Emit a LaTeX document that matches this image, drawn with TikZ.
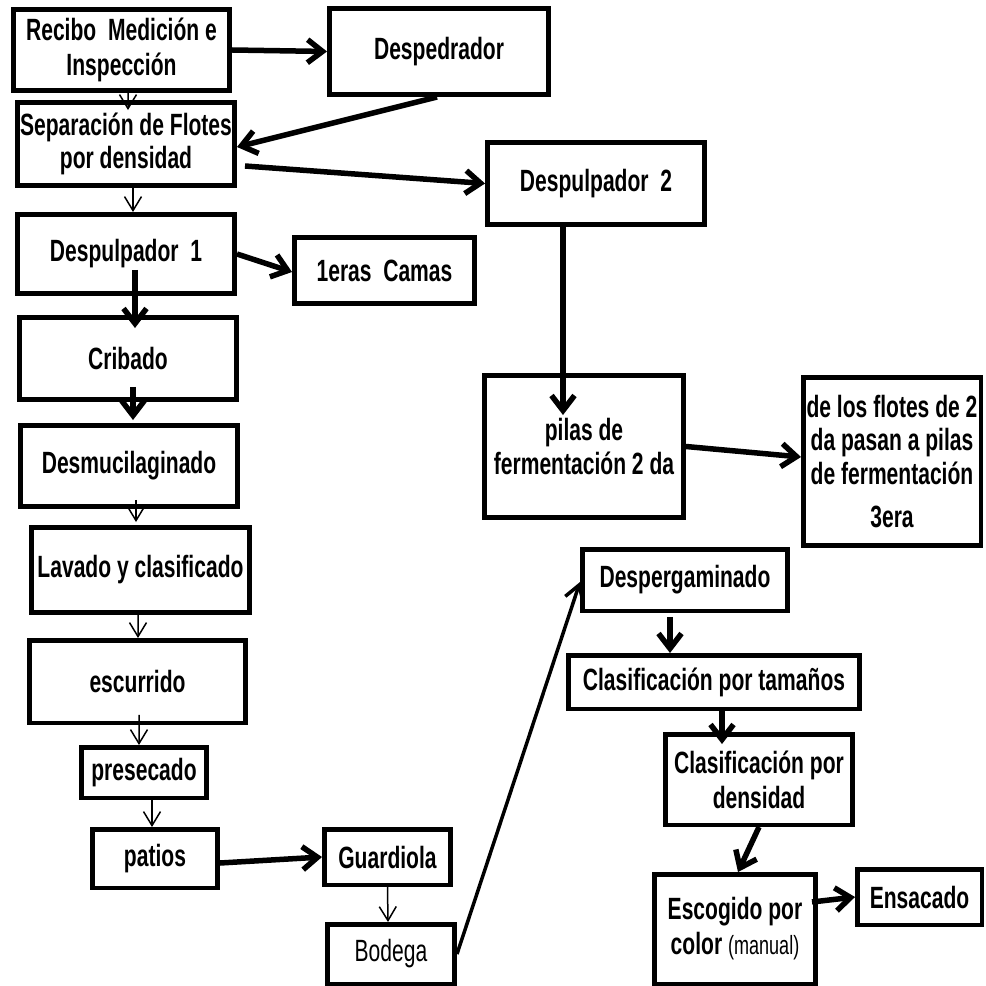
\documentclass[tikz,border=0pt]{standalone}
\usepackage{fontspec}
\setmainfont{Liberation Sans}[FakeStretch=0.685]
\usetikzlibrary{arrows.meta,calc}
\definecolor{textdark}{HTML}{000000}
\definecolor{linedark}{HTML}{000000}
\tikzset{
  stepbox/.style={
    rectangle, draw=linedark, line width=0.09cm, fill=white,
    align=center, inner xsep=1pt, inner ysep=1pt, text=textdark,
    font=\bfseries\fontsize{17.5}{18.9}\selectfont
  },
  plainbox/.style={stepbox, font=\mdseries\fontsize{17.5}{18.9}\selectfont},
  thickarrow/.style={-{Straight Barb[length=0.3cm,width=0.46cm]}, line width=0.11cm, draw=linedark},
  midarrow/.style={-{Straight Barb[length=0.3cm,width=0.38cm]}, line width=0.07cm, draw=linedark},
  thinarrow/.style={-{Straight Barb[length=0.28cm,width=0.34cm]}, line width=0.03cm, draw=linedark}
}

\begin{document}
\begin{tikzpicture}[x=0.02cm,y=-0.02cm]
\useasboundingbox[fill=white] (0,0) rectangle (985,986);
% left column
\node[stepbox, minimum width=4.33cm, minimum height=1.63cm, font=\bfseries\fontsize{17.5}{20}\selectfont] (recibo) at (121.5,50) {Recibo\ \ Medición e\\Inspección};
\node[stepbox, minimum width=4.35cm, minimum height=1.67cm] (separ) at (126,144) {Separación de Flotes\\por densidad};
\node[stepbox, minimum width=4.35cm, minimum height=1.59cm] (desp1) at (126,254) {Despulpador\ \ 1};
\node[stepbox, minimum width=4.35cm, minimum height=1.65cm] (cribado) at (128,358.5) {Cribado};
\node[stepbox, minimum width=4.35cm, minimum height=1.63cm] (desmu) at (129,466) {Desmucilaginado};
\node[stepbox, minimum width=4.37cm, minimum height=1.71cm] (lavado) at (140.5,570) {Lavado y clasificado};
\node[stepbox, minimum width=4.33cm, minimum height=1.65cm] (escurrido) at (137.5,681.5) {escurrido};
\node[stepbox, minimum width=2.51cm, minimum height=1.01cm] (presecado) at (144,772.5) {presecado};
\node[stepbox, minimum width=2.51cm, minimum height=1.17cm] (patios) at (155,858.5) {patios};
% middle
\node[stepbox, minimum width=4.39cm, minimum height=1.73cm] (desped) at (439,51.5) {Despedrador};
\node[stepbox, minimum width=3.61cm, minimum height=1.33cm] (camas) at (384.5,270.5) {1eras\ \ Camas};
\node[stepbox, minimum width=2.53cm, minimum height=1.11cm] (guardiola) at (387.5,857) {Guardiola};
\node[plainbox, minimum width=2.55cm, minimum height=1.19cm] (bodega) at (391,954) {Bodega};
% right
\node[stepbox, minimum width=4.35cm, minimum height=1.65cm] (desp2) at (596,183.5) {Despulpador\ \ 2};
\node[stepbox, minimum width=3.99cm, minimum height=2.85cm] (pilas) at (584,446.5) {pilas de\\fermentación 2 da};
\node[stepbox, minimum width=3.55cm, minimum height=3.37cm, inner xsep=0pt] (flotes) at (892,461.5) {de los flotes de 2\\da pasan a pilas\\de fermentación\\[0.2cm]3era};
\node[stepbox, minimum width=4.11cm, minimum height=1.23cm] (desperg) at (685,580) {Despergaminado};
\node[stepbox, minimum width=5.83cm, minimum height=1.07cm] (tamanos) at (714,682) {Clasificación por tamaños};
\node[stepbox, minimum width=3.75cm, minimum height=1.81cm, font=\bfseries\fontsize{17.5}{20}\selectfont] (densidad) at (759,779.5) {Clasificación por\\densidad};
\node[stepbox, minimum width=3.23cm, minimum height=2.19cm, font=\bfseries\fontsize{17.5}{20}\selectfont] (escogido) at (735,929) {Escogido por\\color {\mdseries\fontsize{15}{20}\selectfont(manual)}};
\node[stepbox, minimum width=2.49cm, minimum height=1.11cm] (ensacado) at (919.5,897) {Ensacado};
% connectors
\draw[thickarrow] (recibo.east) -- (desped.west);
\draw[thinarrow] ($(recibo.south)+(6.5,-2)$) -- ($(separ.north)+(2,10)$);
\draw[thickarrow] ($(desped.south)+(-2,0)$) -- ($(separ.east)+(0,3)$);
\draw[thickarrow] ($(separ.east)+(8,22)$) -- (desp2.west);
\draw[thinarrow] ($(separ.south)+(7,0)$) -- ($(desp1.north)+(7,0)$);
\draw[thickarrow] (desp1.east) -- ($(camas.west)+(0,1.5)$);
\draw[thickarrow] ($(desp1.center)+(9,16)$) -- ($(cribado.north)+(7,13)$);
\draw[thickarrow] ($(cribado.south)+(5,-15)$) -- ($(desmu.north)+(4,-3)$);
\draw[thinarrow] ($(desmu.south)+(7,-9)$) -- ($(lavado.north)+(-4.5,-3)$);
\draw[thinarrow] ($(lavado.south)+(-2.5,0)$) -- ($(escurrido.north)+(0.5,0)$);
\draw[thinarrow] ($(escurrido.south)+(1.5,-10)$) -- ($(presecado.north)+(-5,0)$);
\draw[thinarrow] ($(presecado.south)+(8,0)$) -- ($(patios.north)+(-3,0)$);
\draw[thickarrow] ($(patios.east)+(0,4.5)$) -- (guardiola.west);
\draw[thinarrow] (guardiola.south) -- ($(bodega.north)+(-3,0)$);
\draw[midarrow] (bodega.east) -- ($(desperg.west)+(0,2)$);
\draw[thickarrow] ($(desp2.south)+(-33,0)$) -- ($(pilas.north)+(-21,42)$);
\draw[thickarrow] (pilas.east) -- ($(flotes.west)+(0,-4.5)$);
\draw[thickarrow] ($(desperg.south)+(-15,4)$) -- ($(tamanos.north)+(-44,0)$);
\draw[thickarrow] ($(tamanos.south)+(8,0)$) -- ($(densidad.north)+(-37,12)$);
\draw[thickarrow] (densidad.south) -- ($(escogido.north)+(3,0)$);
\draw[thickarrow] ($(escogido.east)+(-6,-27)$) -- (ensacado.west);
\end{tikzpicture}
\end{document}
